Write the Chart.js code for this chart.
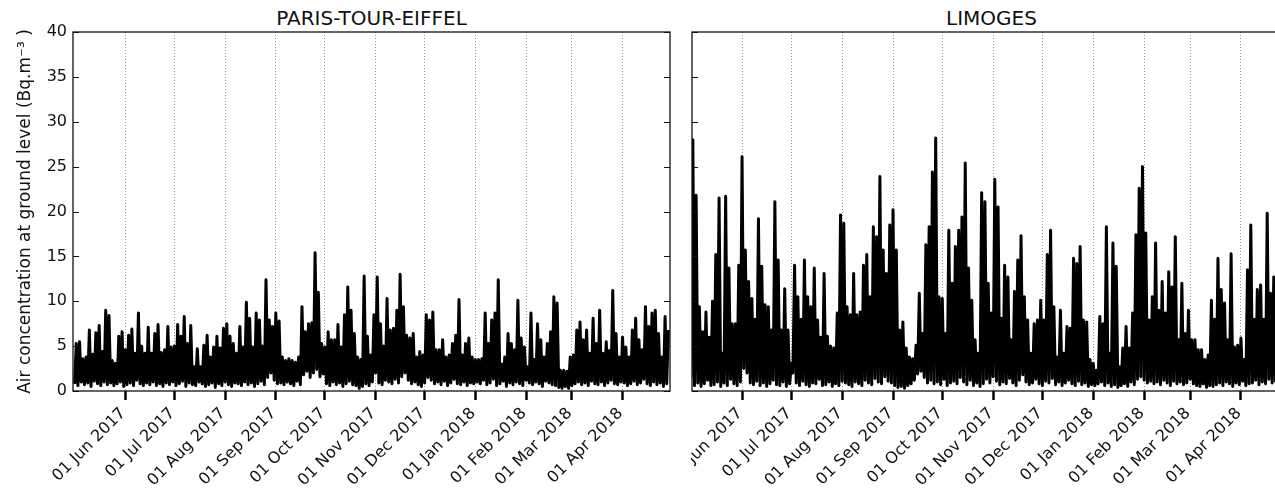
<!DOCTYPE html>
<html>
<head>
<meta charset="utf-8">
<script src="https://cdn.jsdelivr.net/npm/chart.js@4"></script>
<style>
  body { margin: 0; background: #fff; width: 1275px; height: 495px; overflow: hidden; position: relative; font-family: "DejaVu Sans", sans-serif; }
  .title { position: absolute; top: 8px; font-size: 20px; line-height: 20px; text-align: center; color: #111; white-space: nowrap; }
  #paris { position: absolute; left: 0; top: 0; }
  #wrapRight { position: absolute; left: 691px; top: 0; width: 584px; height: 495px; overflow: hidden; }
  #limoges { position: absolute; left: -60px; top: 0; }
</style>
</head>
<body>
<div class="title" style="left:73px;width:597px">PARIS-TOUR-EIFFEL</div>
<div class="title" style="left:692px;width:599px">LIMOGES</div>
<canvas id="paris" width="680" height="495"></canvas>
<div id="wrapRight"><canvas id="limoges" width="680" height="495"></canvas></div>
<script>
// x is days since 01 May 2017
const tickDays = [31, 61, 92, 123, 153, 184, 214, 245, 276, 304, 335];
const tickLabels = ['01 Jun 2017', '01 Jul 2017', '01 Aug 2017', '01 Sep 2017', '01 Oct 2017', '01 Nov 2017',
    '01 Dec 2017', '01 Jan 2018', '01 Feb 2018', '01 Mar 2018', '01 Apr 2018'];

// Paris: lows on even days, highs on odd days (Bq/m3)
const parisLow = [
    0.8, 0.6, 1.0, 0.7, 0.9, 0.5, 1.1, 0.8, 0.6, 1.0, 0.7,
    0.9, 0.6, 0.8, 1.0, 0.5, 0.7, 0.9, 0.6, 1.2, 0.8, 0.6, 0.9, 0.7, 1.0, 0.6, 0.8, 0.5, 0.9, 0.7, 1.0,
    0.6, 0.8, 1.1, 0.5, 0.9, 0.7, 0.6, 1.0, 0.8, 0.5, 0.7, 0.9, 0.4, 0.8, 0.6, 1.0, 0.7, 0.5, 0.9, 0.8,
    0.6, 1.0, 0.7, 0.9, 0.5, 0.8, 1.1, 0.7, 1.5, 2.0, 1.2, 0.8,
    0.9, 0.7, 1.0, 0.8, 0.6, 1.1, 0.7,
    1.8, 2.2, 1.5, 2.0, 2.4, 1.6, 1.9,
    0.8, 0.6, 1.0, 0.7, 0.9, 0.5, 0.8, 1.1, 0.7, 0.6,
    0.3, 0.5, 0.8, 0.6, 1.0, 2.0, 0.9, 0.7, 1.2, 1.0, 0.8, 1.3, 0.9, 1.6, 2.0, 1.2, 0.8, 1.0, 0.7,
    0.5, 0.9, 1.5, 1.2, 0.8, 1.0, 0.7, 1.1, 0.6, 0.9, 1.3, 0.8, 0.7, 1.0, 0.6, 0.9, 0.8,
    1.0, 0.8, 1.2, 0.7, 0.9, 1.3, 0.6, 0.8, 1.1, 0.5, 0.9, 0.7, 1.0, 0.8, 0.6, 1.2, 0.9, 0.7, 1.0, 0.8, 0.5, 1.1, 0.9, 0.7, 0.6,
    0.4, 0.3, 0.5, 0.3, 0.6,
    0.8, 1.0, 0.7, 0.9, 0.6, 1.1, 0.8, 0.7, 1.0, 0.6, 0.9, 1.2, 0.8, 0.7, 1.0, 0.9, 0.6, 0.8, 1.1, 0.7, 0.9, 1.3, 0.8, 0.6, 1.0, 0.7, 0.9, 0.5, 0.8
];
const parisHigh = [
    5.3, 5.5, 3.6, 3.8, 6.8, 4.1, 6.5, 7.3, 4.4, 9.0,
    8.4, 3.4, 3.1, 6.1, 6.6, 4.6, 6.2, 6.9, 4.2, 8.7,
    5.0, 4.2, 7.1, 4.2, 6.4, 7.4, 4.3, 4.6, 7.2, 4.9,
    5.0, 7.4, 6.1, 8.3, 5.3, 7.3, 2.7, 4.7, 2.7, 5.1,
    6.2, 3.8, 4.9, 6.1, 4.8, 7.0, 7.5, 6.1, 5.3, 4.2,
    7.2, 4.9, 9.9, 8.1, 4.9, 8.7, 7.9, 5.0, 12.4, 7.9,
    7.2, 8.7, 7.8, 3.8, 3.4, 3.6, 3.4, 3.2, 3.8, 9.4,
    6.6, 7.5, 7.6, 15.4, 11.0, 5.3, 4.9, 6.6, 5.7, 5.7,
    7.4, 4.9, 8.5, 11.6, 9.0, 6.4, 3.8, 3.5, 12.8, 6.1,
    4.0, 8.5, 12.7, 7.5, 5.0, 10.3, 6.8, 7.0, 9.0, 13.0,
    9.4, 6.2, 5.9, 6.4, 3.8, 4.4, 4.0, 8.5, 7.9, 8.8,
    4.6, 4.6, 5.7, 3.8, 4.0, 5.3, 6.2, 10.2, 4.0, 5.3,
    5.9, 3.8, 3.5, 3.5, 3.6, 8.7, 5.3, 7.9, 8.7, 12.4,
    3.0, 3.8, 6.4, 5.3, 4.6, 10.1, 5.9, 4.9, 2.7, 8.7,
    3.5, 7.5, 5.7, 3.8, 5.3, 6.6, 10.5, 9.8, 2.3, 2.3,
    2.2, 3.8, 4.0, 6.8, 7.7, 5.7, 6.8, 4.2, 8.1, 5.3,
    9.0, 4.2, 5.5, 4.5, 11.2, 6.4, 3.8, 6.0, 4.9, 3.8,
    6.8, 8.1, 5.7, 4.6, 9.4, 7.2, 8.7, 9.0, 6.4, 3.8,
    8.3, 6.8
];

// Limoges: same layout
const limogesLow = [
    1.5, 0.6, 0.9, 0.5, 0.8, 1.2, 0.6, 0.7, 1.0, 0.5, 0.9, 0.6, 1.3, 0.8, 0.6, 1.0, 2.5, 2.0, 0.9, 0.7, 1.1,
    0.6, 0.9, 0.5, 0.8, 1.2, 0.7, 0.6, 1.0, 0.5, 0.8, 2.0, 0.9, 0.6, 1.1, 0.7, 0.5, 0.9, 0.8, 1.3, 0.6, 0.7, 1.0, 0.5, 0.8, 0.6, 1.1, 0.9, 0.7, 0.5, 1.0,
    0.8, 0.6, 1.2, 0.9, 0.7, 1.4, 1.0, 0.8, 1.6, 1.1, 0.9, 0.6, 0.4, 0.5, 0.3, 0.6, 0.8, 1.2, 1.9, 2.2, 1.5, 0.9, 1.2, 0.8, 1.0, 0.7, 1.3, 0.6, 0.9, 1.1,
    0.8, 1.5, 1.0, 0.7, 1.2, 0.6, 0.9, 0.5, 0.8, 1.3, 0.9, 1.6, 1.1, 0.7, 1.0, 0.8, 1.4, 0.9, 0.6, 1.2, 1.8, 1.0, 0.7, 0.9, 1.3, 0.8, 0.6, 1.1, 0.9, 1.4,
    0.7, 1.0, 0.6, 0.9, 1.2, 0.8, 0.6, 1.1, 0.7, 0.9, 0.5, 0.7, 0.6, 0.8, 1.0, 0.6, 0.9, 0.5, 0.7, 0.4, 0.6, 0.8, 0.5, 1.0, 0.7, 1.3, 1.6, 1.2, 0.9, 1.1,
    0.8, 1.0, 0.7, 1.2, 0.9, 0.6, 1.1, 0.8, 1.0, 0.7, 0.9, 1.3, 0.8, 0.6, 0.5, 0.8, 0.4, 0.6, 0.5, 0.7, 0.9, 0.6, 1.0, 0.8, 0.5, 0.9, 0.7, 1.1, 0.6, 0.8,
    0.9, 1.2, 0.7, 1.0, 0.8, 1.3, 0.9, 1.1
];
const limogesHigh = [
    28.0, 21.8, 9.4, 6.6, 8.8, 6.0, 10.0, 15.2, 21.5, 4.2,
    21.7, 13.7, 7.5, 7.5, 14.0, 26.1, 15.7, 12.2, 10.3, 8.0,
    19.2, 13.9, 9.6, 9.4, 6.8, 21.1, 14.6, 6.8, 11.4, 6.8,
    3.1, 14.0, 10.5, 8.0, 14.6, 10.5, 9.4, 13.7, 7.9, 6.0,
    13.1, 6.1, 5.0, 4.8, 8.7, 19.6, 18.7, 9.4, 8.5, 13.1,
    8.5, 8.8, 14.0, 15.2, 10.5, 18.3, 17.2, 23.9, 15.7, 13.1,
    18.5, 20.2, 15.7, 6.8, 7.7, 4.8, 3.8, 3.6, 5.1, 10.9,
    6.4, 16.3, 18.3, 24.4, 28.2, 10.5, 10.3, 6.4, 17.9, 12.0,
    16.1, 17.9, 19.4, 25.4, 13.7, 10.1, 5.7, 4.2, 22.1, 21.1,
    12.0, 8.7, 23.6, 20.5, 8.1, 14.0, 12.7, 5.7, 11.1, 14.6,
    17.3, 10.5, 7.9, 4.2, 7.5, 7.9, 10.1, 7.9, 15.2, 17.9,
    9.4, 3.8, 9.0, 4.2, 7.2, 7.0, 14.8, 14.2, 16.1, 7.9,
    7.7, 3.5, 3.1, 2.3, 8.3, 7.5, 18.3, 4.2, 16.5, 13.9,
    2.7, 4.8, 7.2, 4.8, 8.7, 17.4, 22.6, 25.0, 17.6, 7.9,
    10.5, 16.5, 9.0, 12.2, 8.7, 13.3, 11.6, 17.2, 5.7, 12.0,
    6.4, 9.0, 5.7, 5.7, 4.6, 4.6, 3.5, 4.0, 10.1, 8.0,
    14.8, 11.3, 9.8, 5.7, 15.3, 4.9, 5.1, 5.9, 3.5, 13.5,
    18.5, 8.0, 11.3, 11.8, 8.0, 19.8, 10.9, 12.7, 10.0
];

const toPoints = function (low, high) {
    let pts = [];
    let n = Math.min(low.length, high.length);
    for (let i = 0; i < n; i++) {
        pts.push({x: 2 * i, y: low[i]});
        pts.push({x: 2 * i + 1, y: high[i]});
    }
    return pts;
}

// box around the plot + inward y ticks on both sides
const framePlugin = {
    id: 'frame',
    afterDraw(chart) {
        const ctx = chart.ctx;
        const a = chart.chartArea;
        const y = chart.scales.y;
        ctx.save();
        ctx.strokeStyle = '#111';
        ctx.lineWidth = 1.3;
        ctx.strokeRect(a.left, a.top, a.right - a.left, a.bottom - a.top);
        ctx.lineWidth = 1;
        y.ticks.forEach(t => {
            let py = Math.round(y.getPixelForValue(t.value)) + 0.5;
            ctx.beginPath();
            ctx.moveTo(a.left, py);
            ctx.lineTo(a.left + 6, py);
            ctx.moveTo(a.right, py);
            ctx.lineTo(a.right - 6, py);
            ctx.stroke();
        });
        ctx.restore();
    }
};

const makeChart = function (id, points, o) {
    return new Chart(document.getElementById(id), {
        type: 'line',
        data: {
            datasets: [{
                data: points,
                borderColor: '#000',
                borderWidth: 3,
                borderJoinStyle: 'round',
                pointRadius: 0,
                tension: 0,
                fill: false
            }]
        },
        options: {
            responsive: false,
            animation: false,
            parsing: false,
            events: [],
            layout: {padding: {left: 0, right: o.padRight, top: 32, bottom: 0}},
            plugins: {legend: {display: false}, tooltip: {enabled: false}},
            scales: {
                x: {
                    type: 'linear',
                    min: o.xMin,
                    max: o.xMax,
                    afterBuildTicks: axis => { axis.ticks = tickDays.map(v => ({value: v})); },
                    afterFit: axis => { axis.height = 104; },
                    grid: {color: 'rgba(0,0,0,0.4)', lineWidth: 1, drawTicks: true, tickLength: 9, tickColor: '#000', tickWidth: 2.5},
                    border: {display: false, dash: [1, 2]},
                    ticks: {
                        autoSkip: false, maxRotation: 45, minRotation: 45, padding: 4, labelOffset: -2,
                        color: '#111', font: {family: 'DejaVu Sans', size: 16},
                        callback: v => tickLabels[tickDays.indexOf(v)]
                    }
                },
                y: {
                    min: 0,
                    max: 40,
                    afterFit: axis => { axis.width = o.yWidth; },
                    grid: {display: false, drawTicks: false},
                    border: {display: false},
                    ticks: {display: o.showY, stepSize: 5, padding: 6, color: '#111', font: {family: 'DejaVu Sans', size: 16}},
                    title: {
                        display: o.showY,
                        text: 'Air concentration at ground level (Bq.m⁻³ )',
                        color: '#111',
                        font: {family: 'DejaVu Sans', size: 17},
                        padding: {top: 15, bottom: 0}
                    }
                }
            }
        },
        plugins: [framePlugin]
    });
}

makeChart('paris', toPoints(parisLow, parisHigh), {xMin: -1, xMax: 364, yWidth: 73, padRight: 10, showY: true});
makeChart('limoges', toPoints(limogesLow, limogesHigh), {xMin: 0.5, xMax: 365.5, yWidth: 61, padRight: 20, showY: false});
</script>
</body>
</html>
